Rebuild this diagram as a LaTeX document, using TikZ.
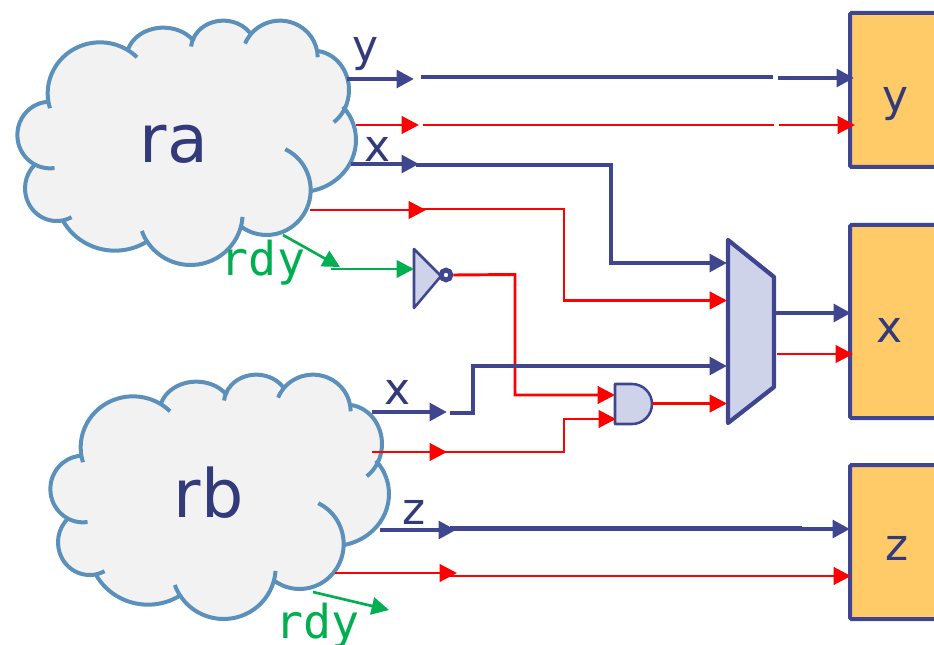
\documentclass[tikz,border=0pt]{standalone}
\usepackage{fontspec}
\setmainfont{DejaVu Sans}
\setmonofont{DejaVu Sans Mono}
\usetikzlibrary{arrows.meta}
\definecolor{navy}{HTML}{333A7A}
\definecolor{wireblue}{HTML}{3F468F}
\definecolor{cloudline}{HTML}{5A90BA}
\definecolor{cloudfill}{HTML}{F2F2F2}
\definecolor{gatefill}{HTML}{CFD3EA}
\definecolor{boxfill}{HTML}{FFCB69}
\definecolor{grn}{HTML}{00B050}
\tikzset{
  tip/.style={-{Triangle[length=13pt,width=13pt]}},
  bus/.style={draw=wireblue,line width=3.3pt,line join=miter},
  ctl/.style={draw=red,line width=2.2pt,line join=miter},
  ctlrun/.style={draw=red,line width=2.2pt,line join=miter},
  thinctl/.style={draw=red,line width=1.7pt},
  rdyline/.style={draw=grn,line width=2pt},
  signal/.style={font=\fontsize{33}{33}\selectfont,text=navy,inner sep=0pt,anchor=base},
  cloudname/.style={font=\fontsize{50}{50}\selectfont,text=navy,inner sep=0pt,anchor=base},
  rdytext/.style={font=\ttfamily\fontsize{35}{35}\selectfont,text=grn,inner sep=0pt,anchor=base},
  reg/.style={draw=wireblue,fill=boxfill,line width=3pt,rounded corners=1pt,inner sep=0pt,minimum width=69pt},
  gate/.style={draw=wireblue,fill=gatefill,line join=round},
  cloudstroke/.style={draw=cloudline,line width=3pt},
  cloudbody/.style={fill=cloudfill},
  x=0.75pt,y=-0.75pt
}
% one elliptical lobe: style, centre x, centre y, x radius, y radius, start, end
\newcommand{\lobe}[7]{%
  \path[#1] ({#2+#4*cos(#6)},{#3-#5*sin(#6)})
    arc[x radius=#4*0.25pt,y radius=#5*0.25pt,start angle=#6,end angle=#7];
}
\newcommand{\cloudarcs}[1]{%
  \lobe{#1}{300}{280}{157}{153}{197}{45}
  \lobe{#1}{490}{173}{110}{90}{162}{33}
  \lobe{#1}{670}{147}{97}{85}{175}{33}
  \lobe{#1}{840}{172}{113}{110}{158}{0}
  \lobe{#1}{940}{270}{107}{118}{82}{-55}
  \lobe{#1}{900}{420}{168}{156}{40}{-79}
  \lobe{#1}{800}{570}{132}{135}{65}{-125}
  \lobe{#1}{572}{640}{156}{155}{-4}{-160}
  \lobe{#1}{345}{582}{177}{170}{-57}{-153}
  \lobe{#1}{170}{565}{95}{98}{-62}{-226}
  \lobe{#1}{150}{405}{98}{100}{-82}{-270}
}
\newcommand{\cloudshape}{%
  \begin{scope}[x=0.25pt,y=-0.25pt]
    \fill[cloudfill] (150,315)--(300,140)--(400,150)--(490,95)--(578,130)--(670,72)--(740,110)--(840,72)--(950,165)--(1035,260)--(1035,320)--(1055,420)--(930,565)--(800,695)--(728,690)--(575,785)--(430,715)--(345,742)--(200,655)--(100,500)--(62,405)--cycle;
    \cloudarcs{cloudbody}
    \cloudarcs{cloudstroke}
  \end{scope}
}
\begin{document}
\begin{tikzpicture}
\useasboundingbox (0,0) rectangle (934,645);
% clouds
\begin{scope}\cloudshape\end{scope}
\begin{scope}[xshift=24.75pt,yshift=-265.5pt]\cloudshape\end{scope}
\node[cloudname] (ra) at (174,163) {ra};
\node[cloudname] (rb) at (208.5,517) {rb};
% registers
\node[reg,minimum height=115.5pt] (ry) at (896,90) {};
\node[reg,minimum height=144.75pt] (rx) at (896,321.5) {};
\node[reg,minimum height=115.5pt] (rz) at (896,542) {};
\node[signal] (ly) at (895.5,112) {y};
\node[signal] (lx) at (890,342) {x};
\node[signal] (lz) at (897,560) {z};
% signal labels
\node[signal] (ty) at (365.5,62) {y};
\node[signal] (tx) at (377.5,162) {x};
\node[signal] (tx2) at (397.5,404) {x};
\node[signal] (tz) at (414,524) {z};
\node[rdytext] (rdya) at (263,275) {rdy};
\node[rdytext] (rdyb) at (317.5,638) {rdy};
% mux
\coordinate (m1) at (728,240); \coordinate (m2) at (774,277);
\coordinate (m3) at (774,387); \coordinate (m4) at (728,423);
\draw[gate,line width=3.2pt,miter limit=10] (m1)--(m2)--(m3)--(m4)--cycle;
% inverter
\coordinate (i1) at (414,249); \coordinate (i2) at (414,308); \coordinate (i3) at (441,276);
\draw[gate,line width=1.9pt] (i1)--(i3)--(i2)--cycle;
\node[circle,draw=wireblue,fill=white,line width=3.6pt,minimum size=7.4pt,inner sep=0pt] (bub) at (446,275) {};
% and gate
\coordinate (a1) at (615,384); \coordinate (a2) at (632,384);
\draw[gate,line width=1.9pt] (a1)--(a2) arc[start angle=90,end angle=-90,radius=15pt]--(615,424)--cycle;
\coordinate (aout) at (652,403.5);
% y path
\coordinate (y0) at (347,79); \coordinate (y1) at (414,79);
\coordinate (y2) at (421,77); \coordinate (y3) at (773,77);
\coordinate (y4) at (778,78); \coordinate (y5) at (854,78);
\draw[bus,tip] (y0)--(y1);
\draw[bus] (y2)--(y3);
\draw[bus,tip] (y4)--(y5);
\coordinate (v0) at (356,125); \coordinate (v1) at (419,125);
\coordinate (v2) at (423,125); \coordinate (v3) at (774,125);
\coordinate (v4) at (779,125); \coordinate (v5) at (855,125);
\draw[ctl,tip] (v0)--(v1);
\draw[thinctl] (v2)--(v3);
\draw[ctl,tip] (v4)--(v5);
% x from ra
\coordinate (xa0) at (351,164); \coordinate (xa1) at (419,164);
\coordinate (xa2) at (416,165); \coordinate (xa3) at (611,165);
\coordinate (xa4) at (611,263); \coordinate (xa5) at (727,263);
\draw[bus,tip] (xa0)--(xa1);
\draw[bus,tip] (xa2)--(xa3)--(xa4)--(xa5);
\coordinate (va0) at (310,210); \coordinate (va1) at (426,210);
\coordinate (va2) at (420,209); \coordinate (va3) at (564,209);
\coordinate (va4) at (564,300.5); \coordinate (va5) at (727,300.5);
\draw[ctl,tip] (va0)--(va1);
\draw[ctlrun,tip] (va2)--(va3)--(va4)--(va5);
% rdy ra
\coordinate (ga0) at (283,235); \coordinate (ga1) at (340,267);
\coordinate (ga2) at (331,269); \coordinate (ga3) at (414,269);
\draw[rdyline,tip] (ga0)--(ga1);
\draw[rdyline,tip] (ga2)--(ga3);
% inverter out
\coordinate (n1) at (515,274.5); \coordinate (n2) at (515,395); \coordinate (n3) at (615,395);
\draw[ctlrun,tip] (bub.east)--(n1)--(n2)--(n3);
% x from rb
\coordinate (xb0) at (372,412); \coordinate (xb1) at (447,412);
\coordinate (xb2) at (450,413); \coordinate (xb3) at (473,413);
\coordinate (xb4) at (473,366); \coordinate (xb5) at (727,366);
\draw[bus,tip] (xb0)--(xb1);
\draw[bus,tip] (xb2)--(xb3)--(xb4)--(xb5);
\coordinate (vb0) at (372,452); \coordinate (vb1) at (447,452);
\coordinate (vb2) at (442,452); \coordinate (vb3) at (564,452);
\coordinate (vb4) at (564,419); \coordinate (vb5) at (616,419);
\draw[ctl,tip] (vb0)--(vb1);
\draw[ctlrun,tip] (vb2)--(vb3)--(vb4)--(vb5);
\coordinate (sel) at (727,403.5);
\draw[ctlrun,tip] (aout)--(sel);
% mux outputs
\coordinate (mo0) at (775,313); \coordinate (mo1) at (851,313);
\coordinate (mo2) at (777,354); \coordinate (mo3) at (853,354);
\draw[bus,tip] (mo0)--(mo1);
\draw[ctlrun,tip] (mo2)--(mo3);
% z path
\coordinate (z0) at (380,530); \coordinate (z1) at (456,530);
\coordinate (z2) at (450,528.5); \coordinate (z3) at (802,528.5);
\coordinate (z4) at (800,529); \coordinate (z5) at (850,529);
\draw[bus,tip] (z0)--(z1);
\draw[bus] (z2)--(z3);
\draw[bus,tip] (z4)--(z5);
\coordinate (w0) at (335,573); \coordinate (w1) at (457,573);
\coordinate (w2) at (450,576); \coordinate (w3) at (775,576);
\coordinate (w4) at (775,576); \coordinate (w5) at (851,576);
\draw[ctl,tip] (w0)--(w1);
\draw[thinctl] (w2)--(w3);
\draw[ctl,tip] (w4)--(w5);
% rdy rb
\coordinate (gb0) at (313,592); \coordinate (gb1) at (389,610);
\draw[rdyline,tip] (gb0)--(gb1);
\end{tikzpicture}
\end{document}
